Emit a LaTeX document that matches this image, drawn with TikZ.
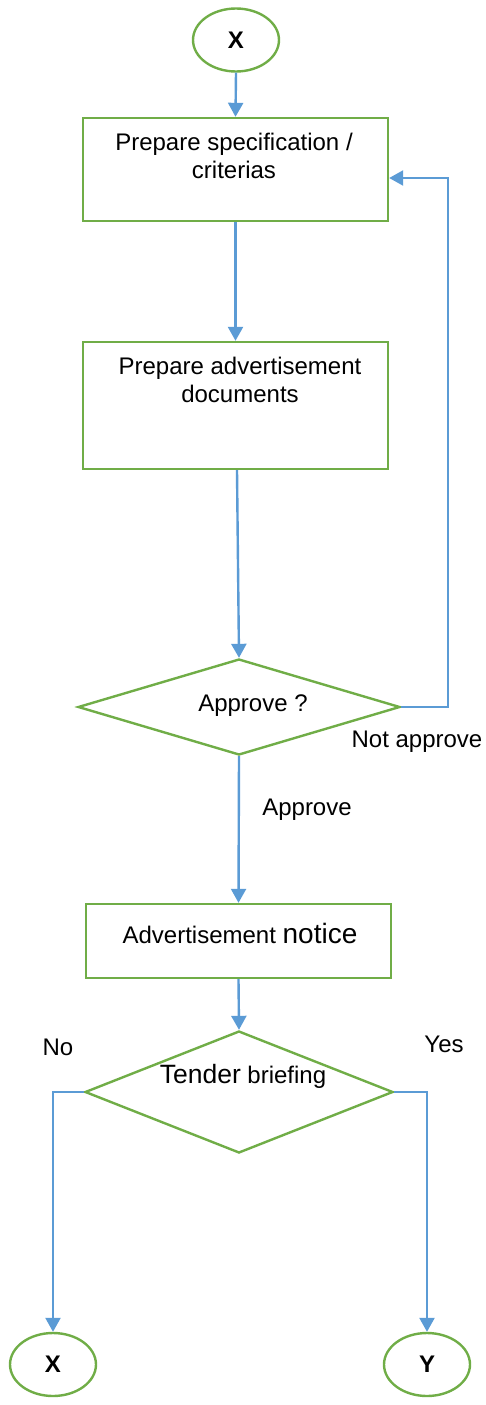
\documentclass[tikz,border=0pt]{standalone}
\usepackage{fontspec}
\setmainfont{Liberation Sans}
\usetikzlibrary{shapes.geometric,arrows.meta}
\definecolor{shapegreen}{RGB}{112,173,71}
\definecolor{linkblue}{RGB}{91,155,213}
\tikzset{
  x=1pt,y=-1pt,
  every node/.style={font=\fontsize{24}{28}\selectfont},
  boxshape/.style={draw=shapegreen,line width=2.4pt,rectangle,inner sep=0pt},
  oval/.style={draw=shapegreen,line width=2.4pt,ellipse,inner sep=0pt,minimum width=86pt,minimum height=63pt,font=\fontsize{24}{28}\selectfont\bfseries},
  decision/.style={draw=shapegreen,line width=2.4pt,diamond,inner sep=0pt},
  txt/.style={anchor=base,align=center,inner sep=0pt},
  arr/.style={draw=linkblue,line width=2.4pt,-{Triangle[length=14pt,width=15pt]}}
}
\begin{document}
\begin{tikzpicture}
\useasboundingbox (0,0) rectangle (485,1405);
% shapes
\node[oval] (x1) at (236,40) {X};
\node[boxshape,minimum width=305pt,minimum height=103pt] (b1) at (235.5,169.5) {};
\node[txt] (t1) at (234,178.5) {Prepare specification /\\criterias};
\node[boxshape,minimum width=305pt,minimum height=127pt] (b2) at (235.5,405.5) {};
\node[txt] (t2) at (240,402.5) {Prepare advertisement\\documents};
\node[decision,minimum width=322pt,minimum height=96pt] (d1) at (239,707) {};
\node[txt] (t3) at (253,711) {Approve ?};
\node[boxshape,minimum width=305pt,minimum height=74pt] (b3) at (238.5,941) {};
\node[txt] (t4) at (240,943) {{\fontsize{24}{28}\selectfont Advertisement} {\fontsize{28}{28}\selectfont notice}};
\node[decision,minimum width=308pt,minimum height=122pt] (d2) at (239,1092) {};
\node[txt] (t5) at (243,1083) {{\fontsize{26.5}{28}\selectfont Tender} {\fontsize{24}{28}\selectfont briefing}};
\node[oval] (x2) at (53,1364.5) {X};
\node[oval] (y1) at (427,1364.5) {Y};
% labels
\node[txt] (lna) at (417,747) {Not approve};
\node[txt] (lap) at (307,815) {Approve};
\node[txt] (lno) at (58,1055) {No};
\node[txt] (lye) at (444,1052) {Yes};
% connectors
\draw[arr] (x1.south) -- (b1.north);
\draw[arr] (b1.south) -- (b2.north);
\draw[arr] ([xshift=1.5pt]b2.south) -- (d1.north);
\coordinate (loopc) at (448,707);
\draw[arr] (d1.east) -- (loopc) |- ([yshift=-8.5pt]b1.east);
\draw[arr] (d1.south) -- (b3.north);
\draw[arr] (b3.south) -- (d2.north);
\draw[arr] (d2.west) -| (x2.north);
\draw[arr] (d2.east) -| (y1.north);
\end{tikzpicture}
\end{document}
